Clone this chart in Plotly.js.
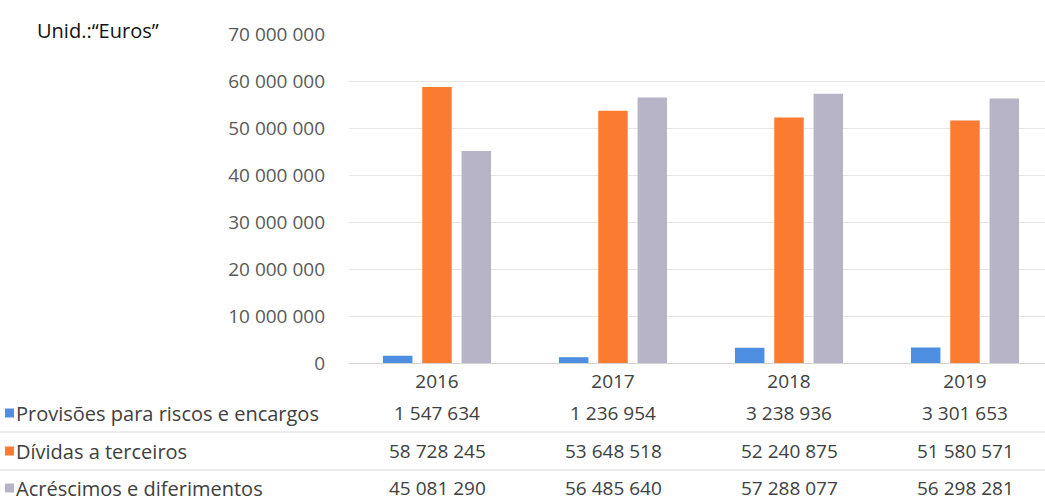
<!DOCTYPE html>
<html>
<head>
<meta charset="utf-8">
<script src="https://cdn.plot.ly/plotly-3.0.1.min.js"></script>
<style>html,body{margin:0;padding:0;background:#fff;}#chart{width:1045px;height:504px;}</style>
</head>
<body>
<div id="chart"></div>
<script>
const years = ["2016", "2017", "2018", "2019"];
const seriesNames = ["Provisões para riscos e encargos", "Dívidas a terceiros", "Acréscimos e diferimentos"];
const provisoes = [1547634, 1236954, 3238936, 3301653];
const dividas = [58728245, 53648518, 52240875, 51580571];
const acrescimos = [45081290, 56485640, 57288077, 56298281];
const yTicks = [0, 10000000, 20000000, 30000000, 40000000, 50000000, 60000000, 70000000];
const unitLabel = "Unid.:“Euros”";

const colors = ["#4d8ee0", "#fb7b30", "#b6b4c6"];
const FONT = "'Open Sans', sans-serif";
const FS = 19;
const allSeries = [provisoes, dividas, acrescimos];

function fmt(v) {
  return String(v).replace(/\B(?=(\d{3})+(?!\d))/g, " ");
}

const traces = allSeries.map((vals, i) => ({
  type: "bar",
  x: years,
  y: vals,
  name: seriesNames[i],
  marker: {color: colors[i]},
  hoverinfo: "skip"
}));

// layout geometry
const W = 1045, H = 504;
const mL = 349, mR = 0, mT = 34, mB = 141;
const plotW = W - mL - mR, plotH = H - mT - mB;
const px2paperX = p => (p - mL) / plotW;
const py2paperY = p => (H - mB - p) / plotH;

const rowY = [413, 451, 488];
const sepY = [432, 470];

const annotations = [];
const shapes = [];

annotations.push({
  xref: "paper", yref: "paper",
  x: px2paperX(35), y: py2paperY(30),
  xanchor: "left", yanchor: "middle",
  text: unitLabel, showarrow: false,
  font: {family: FONT, size: 20, color: "#111"}
});

seriesNames.forEach((name, i) => {
  shapes.push({
    type: "rect", xref: "paper", yref: "paper",
    x0: px2paperX(5), x1: px2paperX(14),
    y0: py2paperY(rowY[i] + 4.5), y1: py2paperY(rowY[i] - 4.5),
    fillcolor: colors[i], line: {width: 0}
  });
  annotations.push({
    xref: "paper", yref: "paper",
    x: px2paperX(15), y: py2paperY(rowY[i]),
    xanchor: "left", yanchor: "middle",
    text: name, showarrow: false, borderpad: 0,
    font: {family: FONT, size: 20, color: "#404040"}
  });
  years.forEach((yr, j) => {
    annotations.push({
      xref: "x", yref: "paper",
      x: j, y: py2paperY(rowY[i]),
      xanchor: "center", yanchor: "middle",
      text: fmt(allSeries[i][j]), showarrow: false, borderpad: 0,
      font: {family: FONT, size: FS, color: "#404040"}
    });
  });
});

sepY.forEach(y => {
  shapes.push({
    type: "line", xref: "paper", yref: "paper",
    x0: px2paperX(0), x1: 1, y0: py2paperY(y), y1: py2paperY(y),
    line: {color: "#d9d9d9", width: 1}
  });
});

const layout = {
  width: W, height: H,
  margin: {l: mL, r: mR, t: mT, b: mB, pad: 0},
  paper_bgcolor: "#fff", plot_bgcolor: "#fff",
  separators: ", ",
  showlegend: false,
  barmode: "group",
  bargap: 0.33,
  bargroupgap: 0.25,
  xaxis: {
    type: "category",
    range: [-0.5, -0.5 + plotW / 176],
    showgrid: false, showline: false, zeroline: false,
    ticks: "", ticklabelstandoff: 5,
    tickfont: {family: FONT, size: FS, color: "#404040"}
  },
  yaxis: {
    range: [0, 70000000],
    tickvals: yTicks,
    ticktext: yTicks.map(fmt),
    showgrid: true, gridcolor: "#e6e6e6", gridwidth: 1,
    zeroline: true, zerolinecolor: "#d4d4d4", zerolinewidth: 1,
    showline: false, ticks: "", ticklabelstandoff: 23,
    tickfont: {family: FONT, size: FS, color: "#595959"}
  },
  annotations: annotations,
  shapes: shapes
};

Plotly.newPlot("chart", traces, layout, {displayModeBar: false, staticPlot: true});
</script>
</body>
</html>
